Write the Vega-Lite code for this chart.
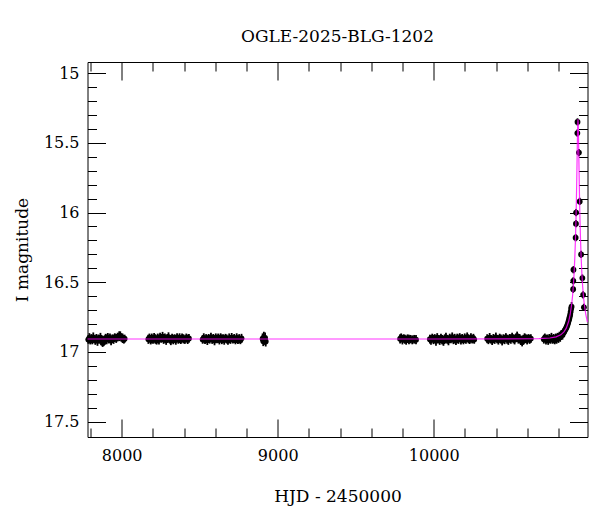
{
  "$schema": "https://vega.github.io/schema/vega-lite/v6.json",
  "width": 500,
  "height": 375,
  "autosize": "none",
  "padding": {"left": 87.5, "top": 62, "right": 12.5, "bottom": 75},
  "background": "white",
  "title": {"text": "OGLE-2025-BLG-1202", "font": "DejaVu Serif", "fontSize": 17, "fontWeight": "normal", "color": "black", "offset": 16, "anchor": "middle"},
  "config": {
    "font": "DejaVu Serif",
    "view": {"stroke": "black", "strokeWidth": 1},
    "axis": {"grid": false, "domain": false, "tickColor": "black", "tickWidth": 1, "labelColor": "black", "titleColor": "black", "labelFont": "DejaVu Serif", "titleFont": "DejaVu Serif", "labelFontSize": 16, "titleFontSize": 17, "titleFontWeight": "normal", "labelOverlap": false, "labelFlush": false, "labelBound": false}
  },
  "datasets": {
    "obs": [
      {"t": 7786, "mag": 16.911, "err": 0.030}, {"t": 7793, "mag": 16.899, "err": 0.034}, {"t": 7799, "mag": 16.918, "err": 0.028}, {"t": 7805, "mag": 16.904, "err": 0.032}, {"t": 7812, "mag": 16.914, "err": 0.031}, {"t": 7818, "mag": 16.895, "err": 0.035}, {"t": 7825, "mag": 16.909, "err": 0.029}, {"t": 7831, "mag": 16.916, "err": 0.033}, {"t": 7838, "mag": 16.901, "err": 0.030}, {"t": 7845, "mag": 16.920, "err": 0.036}, {"t": 7851, "mag": 16.906, "err": 0.031}, {"t": 7858, "mag": 16.912, "err": 0.028}, {"t": 7864, "mag": 16.897, "err": 0.034}, {"t": 7871, "mag": 16.915, "err": 0.032}, {"t": 7878, "mag": 16.935, "err": 0.029}, {"t": 7884, "mag": 16.925, "err": 0.033}, {"t": 7891, "mag": 16.919, "err": 0.031}, {"t": 7897, "mag": 16.900, "err": 0.030}, {"t": 7904, "mag": 16.910, "err": 0.035}, {"t": 7911, "mag": 16.896, "err": 0.032}, {"t": 7918, "mag": 16.911, "err": 0.028}, {"t": 7925, "mag": 16.899, "err": 0.031}, {"t": 7932, "mag": 16.918, "err": 0.034}, {"t": 7940, "mag": 16.904, "err": 0.030}, {"t": 7948, "mag": 16.909, "err": 0.033}, {"t": 7956, "mag": 16.895, "err": 0.029}, {"t": 7965, "mag": 16.903, "err": 0.032}, {"t": 7974, "mag": 16.893, "err": 0.031}, {"t": 7984, "mag": 16.887, "err": 0.035}, {"t": 7991, "mag": 16.884, "err": 0.032}, {"t": 7998, "mag": 16.897, "err": 0.030}, {"t": 8006, "mag": 16.902, "err": 0.034}, {"t": 8014, "mag": 16.909, "err": 0.031}, {"t": 8019, "mag": 16.905, "err": 0.029},
      {"t": 8171, "mag": 16.909, "err": 0.033}, {"t": 8178, "mag": 16.898, "err": 0.030}, {"t": 8186, "mag": 16.914, "err": 0.032}, {"t": 8193, "mag": 16.903, "err": 0.035}, {"t": 8201, "mag": 16.912, "err": 0.029}, {"t": 8208, "mag": 16.895, "err": 0.031}, {"t": 8216, "mag": 16.907, "err": 0.034}, {"t": 8224, "mag": 16.917, "err": 0.030}, {"t": 8231, "mag": 16.900, "err": 0.032}, {"t": 8239, "mag": 16.913, "err": 0.033}, {"t": 8246, "mag": 16.893, "err": 0.031}, {"t": 8254, "mag": 16.905, "err": 0.029}, {"t": 8262, "mag": 16.890, "err": 0.034}, {"t": 8269, "mag": 16.910, "err": 0.032}, {"t": 8277, "mag": 16.897, "err": 0.030}, {"t": 8285, "mag": 16.916, "err": 0.033}, {"t": 8292, "mag": 16.902, "err": 0.031}, {"t": 8300, "mag": 16.894, "err": 0.035}, {"t": 8308, "mag": 16.908, "err": 0.030}, {"t": 8315, "mag": 16.919, "err": 0.032}, {"t": 8323, "mag": 16.899, "err": 0.029}, {"t": 8331, "mag": 16.911, "err": 0.034}, {"t": 8339, "mag": 16.904, "err": 0.031}, {"t": 8347, "mag": 16.915, "err": 0.033}, {"t": 8355, "mag": 16.896, "err": 0.030}, {"t": 8363, "mag": 16.909, "err": 0.032}, {"t": 8371, "mag": 16.901, "err": 0.035}, {"t": 8379, "mag": 16.914, "err": 0.029}, {"t": 8387, "mag": 16.898, "err": 0.031}, {"t": 8396, "mag": 16.906, "err": 0.033}, {"t": 8405, "mag": 16.912, "err": 0.030}, {"t": 8414, "mag": 16.900, "err": 0.032}, {"t": 8423, "mag": 16.909, "err": 0.034}, {"t": 8431, "mag": 16.903, "err": 0.031},
      {"t": 8519, "mag": 16.910, "err": 0.031}, {"t": 8526, "mag": 16.899, "err": 0.033}, {"t": 8534, "mag": 16.913, "err": 0.030}, {"t": 8541, "mag": 16.904, "err": 0.032}, {"t": 8549, "mag": 16.916, "err": 0.034}, {"t": 8557, "mag": 16.900, "err": 0.029}, {"t": 8564, "mag": 16.909, "err": 0.031}, {"t": 8572, "mag": 16.895, "err": 0.033}, {"t": 8580, "mag": 16.912, "err": 0.030}, {"t": 8587, "mag": 16.903, "err": 0.032}, {"t": 8595, "mag": 16.917, "err": 0.035}, {"t": 8603, "mag": 16.898, "err": 0.031}, {"t": 8611, "mag": 16.908, "err": 0.029}, {"t": 8618, "mag": 16.901, "err": 0.033}, {"t": 8626, "mag": 16.914, "err": 0.032}, {"t": 8634, "mag": 16.896, "err": 0.030}, {"t": 8642, "mag": 16.910, "err": 0.034}, {"t": 8650, "mag": 16.904, "err": 0.031}, {"t": 8657, "mag": 16.915, "err": 0.033}, {"t": 8665, "mag": 16.899, "err": 0.029}, {"t": 8673, "mag": 16.907, "err": 0.032}, {"t": 8681, "mag": 16.918, "err": 0.030}, {"t": 8689, "mag": 16.901, "err": 0.034}, {"t": 8697, "mag": 16.911, "err": 0.031}, {"t": 8705, "mag": 16.897, "err": 0.033}, {"t": 8713, "mag": 16.909, "err": 0.030}, {"t": 8721, "mag": 16.903, "err": 0.032}, {"t": 8729, "mag": 16.916, "err": 0.029}, {"t": 8737, "mag": 16.900, "err": 0.034}, {"t": 8745, "mag": 16.912, "err": 0.031}, {"t": 8753, "mag": 16.905, "err": 0.033}, {"t": 8761, "mag": 16.914, "err": 0.030}, {"t": 8768, "mag": 16.902, "err": 0.032},
      {"t": 8903, "mag": 16.905, "err": 0.038}, {"t": 8907, "mag": 16.922, "err": 0.036}, {"t": 8911, "mag": 16.895, "err": 0.040}, {"t": 8915, "mag": 16.912, "err": 0.037}, {"t": 8919, "mag": 16.900, "err": 0.039}, {"t": 8923, "mag": 16.925, "err": 0.036},
      {"t": 9784, "mag": 16.906, "err": 0.033}, {"t": 9791, "mag": 16.898, "err": 0.031}, {"t": 9799, "mag": 16.912, "err": 0.034}, {"t": 9807, "mag": 16.903, "err": 0.030}, {"t": 9815, "mag": 16.909, "err": 0.032}, {"t": 9823, "mag": 16.915, "err": 0.033}, {"t": 9832, "mag": 16.905, "err": 0.031}, {"t": 9841, "mag": 16.911, "err": 0.034}, {"t": 9851, "mag": 16.908, "err": 0.030}, {"t": 9862, "mag": 16.913, "err": 0.032}, {"t": 9874, "mag": 16.909, "err": 0.031}, {"t": 9886, "mag": 16.912, "err": 0.033},
      {"t": 9975, "mag": 16.908, "err": 0.032}, {"t": 9982, "mag": 16.915, "err": 0.034}, {"t": 9990, "mag": 16.899, "err": 0.030}, {"t": 9998, "mag": 16.911, "err": 0.033}, {"t": 10006, "mag": 16.903, "err": 0.031}, {"t": 10014, "mag": 16.920, "err": 0.035}, {"t": 10022, "mag": 16.897, "err": 0.032}, {"t": 10030, "mag": 16.909, "err": 0.030}, {"t": 10038, "mag": 16.916, "err": 0.033}, {"t": 10046, "mag": 16.900, "err": 0.031}, {"t": 10054, "mag": 16.912, "err": 0.034}, {"t": 10062, "mag": 16.924, "err": 0.032}, {"t": 10070, "mag": 16.904, "err": 0.030}, {"t": 10078, "mag": 16.895, "err": 0.033}, {"t": 10086, "mag": 16.910, "err": 0.031}, {"t": 10094, "mag": 16.917, "err": 0.035}, {"t": 10102, "mag": 16.901, "err": 0.032}, {"t": 10110, "mag": 16.908, "err": 0.030}, {"t": 10118, "mag": 16.893, "err": 0.033}, {"t": 10126, "mag": 16.913, "err": 0.031}, {"t": 10134, "mag": 16.904, "err": 0.034}, {"t": 10142, "mag": 16.918, "err": 0.032}, {"t": 10150, "mag": 16.899, "err": 0.030}, {"t": 10158, "mag": 16.909, "err": 0.033}, {"t": 10166, "mag": 16.896, "err": 0.031}, {"t": 10174, "mag": 16.912, "err": 0.034}, {"t": 10182, "mag": 16.903, "err": 0.032}, {"t": 10190, "mag": 16.915, "err": 0.030}, {"t": 10198, "mag": 16.900, "err": 0.033}, {"t": 10206, "mag": 16.910, "err": 0.031}, {"t": 10214, "mag": 16.894, "err": 0.034}, {"t": 10222, "mag": 16.906, "err": 0.032}, {"t": 10230, "mag": 16.913, "err": 0.030}, {"t": 10238, "mag": 16.899, "err": 0.033}, {"t": 10246, "mag": 16.908, "err": 0.031}, {"t": 10254, "mag": 16.902, "err": 0.032}, {"t": 10259, "mag": 16.911, "err": 0.030},
      {"t": 10342, "mag": 16.905, "err": 0.032}, {"t": 10350, "mag": 16.913, "err": 0.031}, {"t": 10358, "mag": 16.898, "err": 0.034}, {"t": 10366, "mag": 16.909, "err": 0.030}, {"t": 10374, "mag": 16.917, "err": 0.033}, {"t": 10382, "mag": 16.902, "err": 0.031}, {"t": 10390, "mag": 16.910, "err": 0.032}, {"t": 10398, "mag": 16.895, "err": 0.034}, {"t": 10406, "mag": 16.908, "err": 0.030}, {"t": 10414, "mag": 16.914, "err": 0.033}, {"t": 10422, "mag": 16.900, "err": 0.031}, {"t": 10430, "mag": 16.907, "err": 0.032}, {"t": 10438, "mag": 16.919, "err": 0.034}, {"t": 10446, "mag": 16.903, "err": 0.030}, {"t": 10454, "mag": 16.911, "err": 0.033}, {"t": 10462, "mag": 16.896, "err": 0.031}, {"t": 10470, "mag": 16.909, "err": 0.032}, {"t": 10478, "mag": 16.915, "err": 0.034}, {"t": 10486, "mag": 16.901, "err": 0.030}, {"t": 10494, "mag": 16.908, "err": 0.033}, {"t": 10502, "mag": 16.893, "err": 0.031}, {"t": 10510, "mag": 16.906, "err": 0.032}, {"t": 10518, "mag": 16.912, "err": 0.034}, {"t": 10526, "mag": 16.899, "err": 0.030}, {"t": 10534, "mag": 16.887, "err": 0.033}, {"t": 10542, "mag": 16.909, "err": 0.031}, {"t": 10550, "mag": 16.903, "err": 0.032}, {"t": 10558, "mag": 16.916, "err": 0.034}, {"t": 10566, "mag": 16.930, "err": 0.030}, {"t": 10574, "mag": 16.910, "err": 0.033}, {"t": 10582, "mag": 16.897, "err": 0.031}, {"t": 10590, "mag": 16.905, "err": 0.032}, {"t": 10598, "mag": 16.912, "err": 0.034}, {"t": 10606, "mag": 16.902, "err": 0.030}, {"t": 10614, "mag": 16.909, "err": 0.033}, {"t": 10622, "mag": 16.904, "err": 0.031},
      {"t": 10705, "mag": 16.908, "err": 0.032}, {"t": 10712, "mag": 16.899, "err": 0.031}, {"t": 10719, "mag": 16.913, "err": 0.034}, {"t": 10726, "mag": 16.905, "err": 0.030}, {"t": 10733, "mag": 16.916, "err": 0.033}, {"t": 10740, "mag": 16.902, "err": 0.031}, {"t": 10747, "mag": 16.909, "err": 0.032}, {"t": 10754, "mag": 16.897, "err": 0.034}, {"t": 10761, "mag": 16.911, "err": 0.030}, {"t": 10768, "mag": 16.904, "err": 0.033}, {"t": 10775, "mag": 16.914, "err": 0.031}, {"t": 10781, "mag": 16.900, "err": 0.032}, {"t": 10787, "mag": 16.907, "err": 0.034}, {"t": 10793, "mag": 16.893, "err": 0.030}, {"t": 10799, "mag": 16.902, "err": 0.033}, {"t": 10805, "mag": 16.886, "err": 0.031}, {"t": 10810, "mag": 16.895, "err": 0.032}, {"t": 10815, "mag": 16.880, "err": 0.034}, {"t": 10820, "mag": 16.872, "err": 0.030}, {"t": 10825, "mag": 16.878, "err": 0.033}, {"t": 10830, "mag": 16.862, "err": 0.031}, {"t": 10835, "mag": 16.857, "err": 0.032}, {"t": 10840, "mag": 16.845, "err": 0.034}, {"t": 10845, "mag": 16.836, "err": 0.030}, {"t": 10849, "mag": 16.826, "err": 0.033}, {"t": 10853, "mag": 16.817, "err": 0.031}, {"t": 10857, "mag": 16.805, "err": 0.032}, {"t": 10861, "mag": 16.790, "err": 0.034}, {"t": 10865, "mag": 16.775, "err": 0.030}, {"t": 10868, "mag": 16.762, "err": 0.033}, {"t": 10871, "mag": 16.748, "err": 0.031}, {"t": 10874, "mag": 16.733, "err": 0.032}, {"t": 10877, "mag": 16.712, "err": 0.034}, {"t": 10880, "mag": 16.690, "err": 0.030}, {"t": 10883, "mag": 16.675, "err": 0.033},
      {"t": 10893, "mag": 16.55, "err": 0.026}, {"t": 10894, "mag": 16.49, "err": 0.026}, {"t": 10895, "mag": 16.41, "err": 0.026}, {"t": 10909, "mag": 16.18, "err": 0.026}, {"t": 10911, "mag": 16.08, "err": 0.026}, {"t": 10912, "mag": 16.00, "err": 0.026}, {"t": 10920, "mag": 15.43, "err": 0.026}, {"t": 10921, "mag": 15.35, "err": 0.026}, {"t": 10930, "mag": 15.57, "err": 0.026}, {"t": 10935, "mag": 15.92, "err": 0.026}, {"t": 10944, "mag": 16.30, "err": 0.026}, {"t": 10952, "mag": 16.47, "err": 0.026}, {"t": 10957, "mag": 16.59, "err": 0.026}, {"t": 10962, "mag": 16.68, "err": 0.026}
    ],
    "model": [
      {"t": 7781, "mag": 16.907}, {"t": 9000, "mag": 16.907}, {"t": 10000, "mag": 16.907}, {"t": 10674, "mag": 16.905}, {"t": 10744, "mag": 16.900}, {"t": 10784, "mag": 16.892}, {"t": 10814, "mag": 16.877}, {"t": 10834, "mag": 16.856}, {"t": 10849, "mag": 16.829}, {"t": 10864, "mag": 16.782}, {"t": 10874, "mag": 16.731}, {"t": 10884, "mag": 16.654}, {"t": 10889, "mag": 16.600}, {"t": 10894, "mag": 16.530}, {"t": 10899, "mag": 16.438}, {"t": 10904, "mag": 16.315}, {"t": 10908, "mag": 16.183}, {"t": 10911, "mag": 16.057}, {"t": 10914, "mag": 15.901}, {"t": 10916, "mag": 15.776}, {"t": 10918, "mag": 15.638}, {"t": 10920, "mag": 15.496}, {"t": 10922, "mag": 15.379}, {"t": 10924, "mag": 15.331}, {"t": 10926, "mag": 15.379}, {"t": 10928, "mag": 15.496}, {"t": 10930, "mag": 15.638}, {"t": 10932, "mag": 15.776}, {"t": 10934, "mag": 15.901}, {"t": 10937, "mag": 16.057}, {"t": 10940, "mag": 16.183}, {"t": 10944, "mag": 16.315}, {"t": 10949, "mag": 16.438}, {"t": 10954, "mag": 16.530}, {"t": 10959, "mag": 16.600}, {"t": 10964, "mag": 16.654}, {"t": 10974, "mag": 16.731}, {"t": 10984, "mag": 16.782}, {"t": 10985, "mag": 16.786}
    ]
  },
  "layer": [
    {
      "data": {"name": "obs"},
      "mark": {"type": "errorbar", "color": "black", "thickness": 1.8},
      "encoding": {
        "x": {"field": "t", "type": "quantitative", "scale": {"domain": [7781, 10985], "nice": false, "zero": false},
          "axis": {"orient": "bottom", "title": "HJD - 2450000", "values": [7800, 8000, 8200, 8400, 8600, 8800, 9000, 9200, 9400, 9600, 9800, 10000, 10200, 10400, 10600, 10800],
            "format": "d", "labelExpr": "datum.value % 1000 === 0 ? datum.label : ''",
            "tickSize": {"condition": {"test": "datum.value % 1000 === 0", "value": -18}, "value": -9},
            "labelPadding": 28, "titlePadding": 16}},
        "y": {"field": "mag", "type": "quantitative", "scale": {"domain": [14.92, 17.61], "nice": false, "zero": false, "reverse": true},
          "axis": {"orient": "left", "title": "I magnitude", "values": [15, 15.1, 15.2, 15.3, 15.4, 15.5, 15.6, 15.7, 15.8, 15.9, 16, 16.1, 16.2, 16.3, 16.4, 16.5, 16.6, 16.7, 16.8, 16.9, 17, 17.1, 17.2, 17.3, 17.4, 17.5],
            "format": "~g", "labelExpr": "abs(datum.value*2 - round(datum.value*2)) < 0.01 ? datum.label : ''",
            "tickSize": {"condition": {"test": "abs(datum.value*2 - round(datum.value*2)) < 0.01", "value": -18}, "value": -9},
            "labelPadding": 26.5, "titlePadding": 12}},
        "yError": {"field": "err"}
      }
    },
    {
      "data": {"name": "obs"},
      "mark": {"type": "point", "filled": true, "color": "black", "size": 34, "opacity": 1},
      "encoding": {
        "x": {"field": "t", "type": "quantitative", "axis": null},
        "y": {"field": "mag", "type": "quantitative", "axis": null}
      }
    },
    {
      "data": {"name": "model"},
      "mark": {"type": "line", "color": "#ff00ff", "strokeWidth": 1.2, "opacity": 0.8},
      "encoding": {
        "x": {"field": "t", "type": "quantitative", "axis": null},
        "y": {"field": "mag", "type": "quantitative", "axis": null}
      }
    },
    {
      "data": {"name": "model"},
      "mark": {"type": "line", "opacity": 0},
      "encoding": {
        "x": {"field": "t", "type": "quantitative",
          "axis": {"orient": "top", "title": null, "labels": false, "values": [7800, 8000, 8200, 8400, 8600, 8800, 9000, 9200, 9400, 9600, 9800, 10000, 10200, 10400, 10600, 10800],
            "tickSize": {"condition": {"test": "datum.value % 1000 === 0", "value": -18}, "value": -9}}},
        "y": {"field": "mag", "type": "quantitative",
          "axis": {"orient": "right", "title": null, "labels": false, "values": [15, 15.1, 15.2, 15.3, 15.4, 15.5, 15.6, 15.7, 15.8, 15.9, 16, 16.1, 16.2, 16.3, 16.4, 16.5, 16.6, 16.7, 16.8, 16.9, 17, 17.1, 17.2, 17.3, 17.4, 17.5],
            "tickSize": {"condition": {"test": "abs(datum.value*2 - round(datum.value*2)) < 0.01", "value": -18}, "value": -9}}}
      }
    }
  ],
  "resolve": {"axis": {"x": "independent", "y": "independent"}}
}
